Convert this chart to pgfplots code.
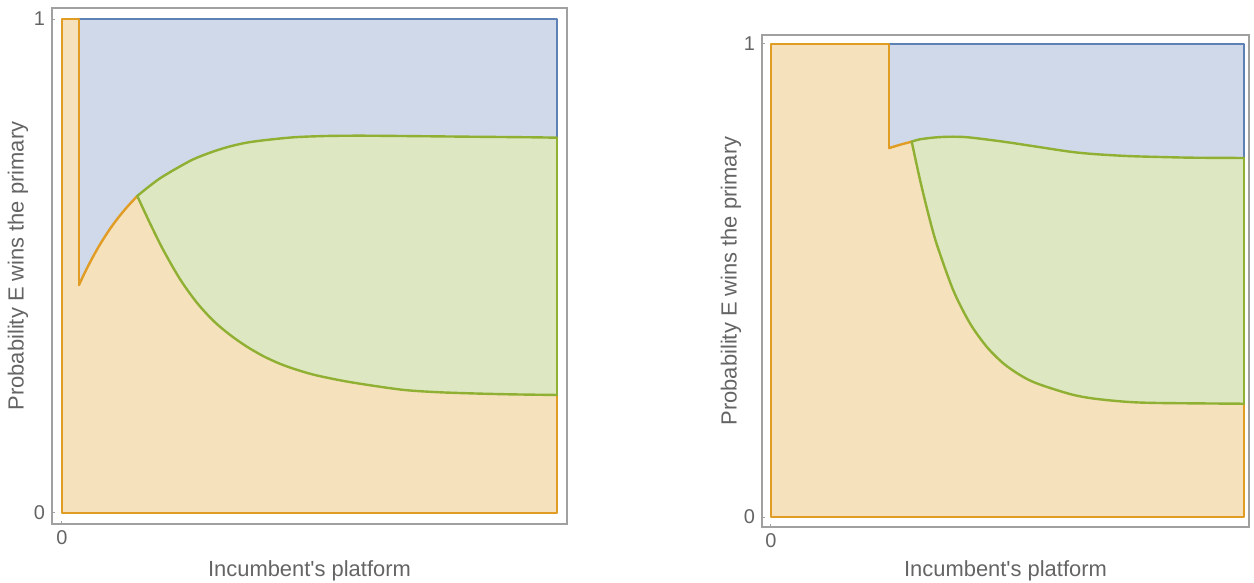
\documentclass[border=0pt]{standalone}
\usepackage{fontspec}
\setmainfont{Liberation Sans}[Ligatures=TeXOff]
\usepackage{pgfplots}
\pgfplotsset{compat=1.18}
\definecolor{mblue}{RGB}{94,129,181}
\definecolor{morange}{RGB}{225,156,36}
\definecolor{mgreen}{RGB}{143,176,50}
\definecolor{fblue}{RGB}{207,217,233}
\definecolor{forange}{RGB}{246,225,189}
\definecolor{fgreen}{RGB}{221,231,193}
\definecolor{framegray}{RGB}{160,160,160}
\definecolor{txtgray}{RGB}{100,100,100}
\pgfplotsset{
 myaxis/.style={
  scale only axis,
  axis line style={framegray, line width=0.6bp},
  xtick={0}, ytick={0,1},
  xticklabels={0}, yticklabels={0,1},
  tick style={framegray, line width=0.5bp},
  major tick length=1.5bp,
  tick align=inside,
  xtick pos=bottom, ytick pos=left,
  ticklabel style={font=\fontsize{10}{12}\selectfont, text=txtgray},
  label style={font=\fontsize{11}{13}\selectfont, text=txtgray},
  xlabel={Incumbent's platform},
  ylabel={Probability E wins the primary},
  clip=false,
  every axis plot/.append style={line width=1.2bp, line join=round, line cap=round},
 }
}
% ---------- left panel data ----------
\pgfplotstableread{
x y
0.0343 0.4615
0.0465 0.4875
0.0626 0.5187
0.0788 0.5470
0.0970 0.5752
0.1131 0.5971
0.1313 0.6192
0.1521 0.6417
}\LorangeCurve
\pgfplotstableread{
x y
0.1521 0.6417
0.1711 0.6573
0.1980 0.6775
0.2317 0.6978
0.2653 0.7160
0.2990 0.7294
0.3327 0.7403
0.3663 0.7484
0.4000 0.7536
0.4673 0.7605
0.5347 0.7632
0.6020 0.7638
0.6828 0.7632
0.8176 0.7618
0.9521 0.7605
1.0000 0.7597
}\LgreenUpper
\pgfplotstableread{
x y
0.1521 0.6417
0.1778 0.5864
0.2046 0.5324
0.2384 0.4734
0.2721 0.4262
0.3057 0.3892
0.3394 0.3606
0.3731 0.3370
0.4067 0.3175
0.4404 0.3020
0.4741 0.2900
0.5145 0.2785
0.5818 0.2650
0.6828 0.2500
0.7495 0.2450
0.8176 0.2424
0.9051 0.2402
1.0000 0.2389
}\LgreenLower
% ---------- right panel data ----------
\pgfplotstableread{
x y
0.2500 0.7800
0.2730 0.7870
0.2975 0.7935
}\RorangeCurve
\pgfplotstableread{
x y
0.2975 0.7935
0.3150 0.7985
0.3503 0.8027
0.3854 0.8040
0.4207 0.8023
0.4911 0.7935
0.5617 0.7829
0.6321 0.7723
0.6814 0.7674
0.7520 0.7632
0.8224 0.7611
0.8928 0.7596
1.0000 0.7590
}\RgreenUpper
\pgfplotstableread{
x y
0.2975 0.7935
0.3150 0.7130
0.3326 0.6408
0.3503 0.5771
0.3855 0.4790
0.4207 0.4094
0.4559 0.3601
0.4911 0.3249
0.5264 0.3002
0.5616 0.2826
0.6321 0.2600
0.6814 0.2505
0.7520 0.2435
0.8224 0.2410
1.0000 0.2395
}\RgreenLower
\begin{document}
\begin{tikzpicture}
\path[use as bounding box] (0,0) rectangle (627bp,291.5bp);
% ---------------- left panel ----------------
\begin{axis}[myaxis,
  at={(26bp,29.5bp)}, anchor=south west,
  width=257.5bp, height=258bp,
  xmin=-0.0202, xmax=1.0202, ymin=-0.0223, ymax=1.0223,
  xlabel style={at={(axis description cs:0.5,-0.0911)}, anchor=center},
  ylabel style={at={(axis description cs:-0.066,0.5)}, anchor=center},
]
% fills
\addplot[draw=none, fill=fblue] coordinates {
 (0.0343,1) (1,1) (1,0.7597)
 (0.9521,0.7605) (0.8176,0.7618) (0.6828,0.7632) (0.6020,0.7638) (0.5347,0.7632)
 (0.4673,0.7605) (0.4000,0.7536) (0.3663,0.7484) (0.3327,0.7403) (0.2990,0.7294)
 (0.2653,0.7160) (0.2317,0.6978) (0.1980,0.6775) (0.1711,0.6573) (0.1521,0.6417)
 (0.1313,0.6192) (0.1131,0.5971) (0.0970,0.5752) (0.0788,0.5470) (0.0626,0.5187)
 (0.0465,0.4875) (0.0343,0.4615)
} -- cycle;
\addplot[draw=none, fill=forange] coordinates {
 (0,0) (0,1) (0.0343,1) (0.0343,0.4615)
 (0.0465,0.4875) (0.0626,0.5187) (0.0788,0.5470) (0.0970,0.5752) (0.1131,0.5971)
 (0.1313,0.6192) (0.1521,0.6417)
 (0.1778,0.5864) (0.2046,0.5324) (0.2384,0.4734) (0.2721,0.4262) (0.3057,0.3892)
 (0.3394,0.3606) (0.3731,0.3370) (0.4067,0.3175) (0.4404,0.3020) (0.4741,0.2900)
 (0.5145,0.2785) (0.5818,0.2650) (0.6828,0.2500) (0.7495,0.2450)
 (0.8176,0.2424) (0.9051,0.2402) (1,0.2389) (1,0)
} -- cycle;
\addplot[draw=none, fill=fgreen] coordinates {
 (0.1521,0.6417) (0.1711,0.6573) (0.1980,0.6775) (0.2317,0.6978) (0.2653,0.7160)
 (0.2990,0.7294) (0.3327,0.7403) (0.3663,0.7484) (0.4000,0.7536) (0.4673,0.7605)
 (0.5347,0.7632) (0.6020,0.7638) (0.6828,0.7632) (0.8176,0.7618) (0.9521,0.7605)
 (1,0.7597) (1,0.2389)
 (0.9051,0.2402) (0.8176,0.2424) (0.7495,0.2450) (0.6828,0.2500)
 (0.5818,0.2650) (0.5145,0.2785) (0.4741,0.2900) (0.4404,0.3020) (0.4067,0.3175)
 (0.3731,0.3370) (0.3394,0.3606) (0.3057,0.3892) (0.2721,0.4262) (0.2384,0.4734)
 (0.2046,0.5324) (0.1778,0.5864)
} -- cycle;
% outlines
\addplot[mblue] coordinates {(0.0343,1) (1,1) (1,0.7597)};
\addplot[morange] coordinates {(0.0343,0.4615) (0.0343,1) (0,1) (0,0) (1,0) (1,0.2389)};
\addplot[morange, smooth] table {\LorangeCurve};
\addplot[mgreen, smooth] table {\LgreenUpper};
\addplot[mgreen, smooth] table {\LgreenLower};
\addplot[mgreen] coordinates {(1,0.7597) (1,0.2389)};
\end{axis}
% ---------------- right panel ----------------
\begin{axis}[myaxis,
  at={(381bp,28bp)}, anchor=south west,
  width=243.5bp, height=246bp,
  xmin=-0.019, xmax=1.0106, ymin=-0.0211, ymax=1.019,
  xlabel style={at={(axis description cs:0.5,-0.0894)}, anchor=center},
  ylabel style={at={(axis description cs:-0.0637,0.5)}, anchor=center},
]
% fills
\addplot[draw=none, fill=fblue] coordinates {
 (0.25,1) (1,1) (1,0.7590)
 (0.8928,0.7596) (0.8224,0.7611) (0.7520,0.7632) (0.6814,0.7674) (0.6321,0.7723)
 (0.5617,0.7829) (0.4911,0.7935) (0.4207,0.8023) (0.3854,0.8040) (0.3503,0.8027)
 (0.3150,0.7985) (0.2975,0.7935)
 (0.273,0.787) (0.25,0.780)
} -- cycle;
\addplot[draw=none, fill=forange] coordinates {
 (0,0) (0,1) (0.25,1) (0.25,0.780) (0.273,0.787) (0.2975,0.7935)
 (0.3150,0.7130) (0.3326,0.6408) (0.3503,0.5771) (0.3855,0.4790) (0.4207,0.4094)
 (0.4559,0.3601) (0.4911,0.3249) (0.5264,0.3002) (0.5616,0.2826) (0.6321,0.2600)
 (0.6814,0.2505) (0.7520,0.2435) (0.8224,0.2410) (1,0.2395) (1,0)
} -- cycle;
\addplot[draw=none, fill=fgreen] coordinates {
 (0.2975,0.7935) (0.3150,0.7985) (0.3503,0.8027) (0.3854,0.8040) (0.4207,0.8023)
 (0.4911,0.7935) (0.5617,0.7829) (0.6321,0.7723) (0.6814,0.7674) (0.7520,0.7632)
 (0.8224,0.7611) (0.8928,0.7596) (1,0.7590) (1,0.2395)
 (0.8224,0.2410) (0.7520,0.2435) (0.6814,0.2505) (0.6321,0.2600) (0.5616,0.2826)
 (0.5264,0.3002) (0.4911,0.3249) (0.4559,0.3601) (0.4207,0.4094) (0.3855,0.4790)
 (0.3503,0.5771) (0.3326,0.6408) (0.3150,0.7130)
} -- cycle;
% outlines
\addplot[mblue] coordinates {(0.25,1) (1,1) (1,0.7590)};
\addplot[morange] coordinates {(0.25,0.780) (0.25,1) (0,1) (0,0) (1,0) (1,0.2395)};
\addplot[morange, smooth] table {\RorangeCurve};
\addplot[mgreen, smooth] table {\RgreenUpper};
\addplot[mgreen, smooth] table {\RgreenLower};
\addplot[mgreen] coordinates {(1,0.7590) (1,0.2395)};
\end{axis}
\end{tikzpicture}
\end{document}
